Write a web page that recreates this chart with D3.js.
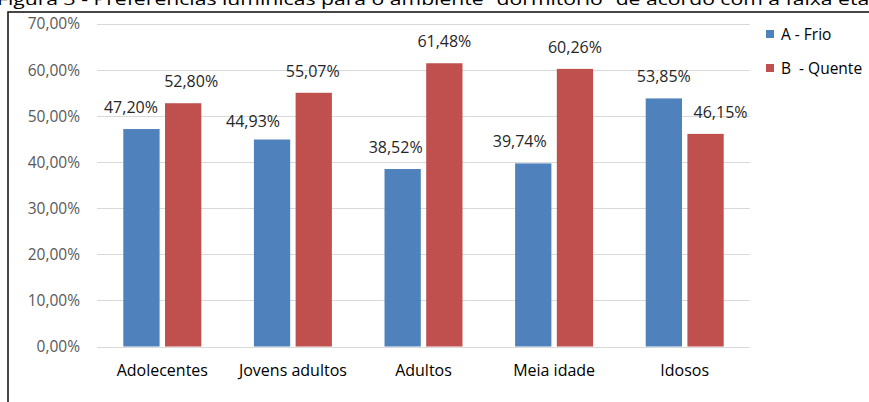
<!DOCTYPE html>
<html>
<head>
<meta charset="utf-8">
<script src="https://cdn.jsdelivr.net/npm/d3@7"></script>
<style>
  html, body { margin: 0; padding: 0; background: #fff; overflow: hidden; }
  svg { display: block; font-family: "Open Sans", Lato, sans-serif; }
</style>
</head>
<body>
<svg id="chart" width="869" height="402"></svg>
<script>
// Light preference for the "dormitório" room by age group
const titleText = "Figura 3 - Preferências lumínicas para o ambiente \u201cdormitório\u201d de acordo com a faixa etária";
const categories = ["Adolecentes", "Jovens adultos", "Adultos", "Meia idade", "Idosos"];
const seriesNames = ["A - Frio", "B  - Quente"];
const frio = [47.20, 44.93, 38.52, 39.74, 53.85];
const quente = [52.80, 55.07, 61.48, 60.26, 46.15];
const yTicks = [0, 10, 20, 30, 40, 50, 60, 70];
const colors = ["#4f81bd", "#c0504d"];

// hand-placed value labels: horizontal / vertical nudges (px) per series
const labelNudgeX = [[-10.5, -19, -7, -13.5, 0], [8, -1, 0, 0, 15]];
const labelNudgeY = [[0, 3, 0, 0, 0], [0, 0, 0, 0, 0]];

const svg = d3.select("#chart");

const plot = { left: 97, right: 750, top: 24, bottom: 346.5 };

const x0 = d3.scaleBand().domain(categories).range([plot.left, plot.right]).padding(0);
const x1 = d3.scaleBand().domain(seriesNames).range([-39, 39]).paddingInner(0.13);
const y = d3.scaleLinear().domain([0, 70]).range([plot.bottom, plot.top]);

const fmt = v => v.toFixed(2).replace(".", ",") + "%";

// Title (partly above the visible area)
svg.append("text")
  .attr("x", -3).attr("y", 5)
  .attr("font-size", 17).attr("fill", "#000")
  .attr("textLength", 898).attr("lengthAdjust", "spacingAndGlyphs")
  .text(titleText);

// Chart frame
svg.append("rect")
  .attr("x", 8).attr("y", 12).attr("width", 900).attr("height", 420)
  .attr("fill", "none").attr("stroke", "#1a1a1a").attr("stroke-width", 1.6);

// Gridlines
svg.append("g")
  .selectAll("line").data(yTicks).join("line")
  .attr("x1", plot.left).attr("x2", plot.right)
  .attr("y1", d => Math.round(y(d)) + 0.5).attr("y2", d => Math.round(y(d)) + 0.5)
  .attr("stroke", "#d9d9d9").attr("stroke-width", 1);

// Y axis labels
const yAxis = d3.axisLeft(y).tickValues(yTicks).tickFormat(d => fmt(d)).tickSize(0).tickPadding(0);
const gy = svg.append("g").attr("transform", "translate(80,0)").call(yAxis)
  .attr("font-family", null).attr("font-size", null);
gy.select(".domain").remove();
gy.selectAll("text").attr("font-size", 15.5).attr("fill", "#595959");

// X axis labels
const xAxis = d3.axisBottom(x0).tickSize(0).tickPadding(0);
const gx = svg.append("g").attr("transform", `translate(0,${plot.bottom + 18})`).call(xAxis)
  .attr("font-family", null).attr("font-size", null);
gx.select(".domain").remove();
gx.selectAll("text").attr("font-size", 16).attr("fill", "#000");

// Bars
const rows = categories.map((c, i) => ({ cat: c, i, vals: [frio[i], quente[i]] }));
const groups = svg.append("g").selectAll("g").data(rows).join("g")
  .attr("transform", d => `translate(${x0(d.cat) + x0.bandwidth() / 2},0)`);

groups.selectAll("rect").data(d => d.vals.map((v, k) => ({ v, k, i: d.i })))
  .join("rect")
  .attr("x", d => x1(seriesNames[d.k]))
  .attr("width", x1.bandwidth())
  .attr("y", d => y(d.v))
  .attr("height", d => y(0) - y(d.v))
  .attr("fill", d => colors[d.k]);

// Value labels
groups.selectAll("text").data(d => d.vals.map((v, k) => ({ v, k, i: d.i })))
  .join("text")
  .attr("x", d => x1(seriesNames[d.k]) + x1.bandwidth() / 2 + labelNudgeX[d.k][d.i])
  .attr("y", d => y(d.v) - 16 + labelNudgeY[d.k][d.i])
  .attr("text-anchor", "middle")
  .attr("font-size", 16).attr("fill", "#262626")
  .text(d => fmt(d.v));

// Legend
const legend = svg.append("g").selectAll("g").data(seriesNames).join("g")
  .attr("transform", (d, i) => `translate(766,${30 + i * 34})`);
legend.append("rect").attr("width", 8).attr("height", 8).attr("fill", (d, i) => colors[i]);
legend.append("text").attr("x", 15).attr("y", 9.5).attr("font-size", 15.5).attr("fill", "#000")
  .attr("xml:space", "preserve").style("white-space", "pre").text(d => d);
</script>
</body>
</html>
